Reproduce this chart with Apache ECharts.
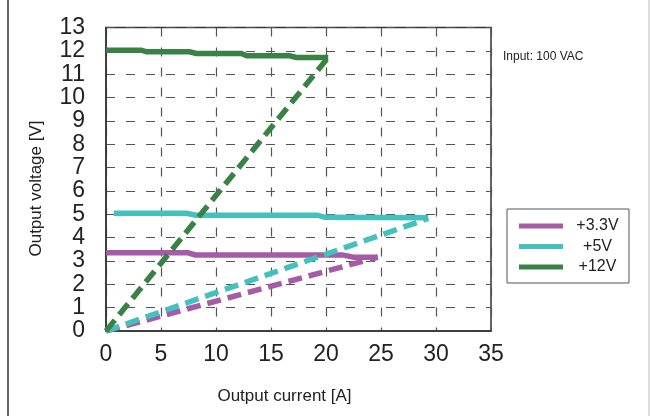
<!DOCTYPE html>
<html>
<head>
<meta charset="utf-8">
<script src="https://cdn.jsdelivr.net/npm/echarts@6/dist/echarts.min.js"></script>
<style>
  html, body { margin: 0; padding: 0; background: #fff; }
  #chart { width: 650px; height: 416px; }
</style>
</head>
<body>
<div id="chart"></div>
<script>
// ---- data ----
const seriesNames = ['+3.3V', '+5V', '+12V'];
const xTicks = [0, 5, 10, 15, 20, 25, 30, 35];
const yTicks = [0, 1, 2, 3, 4, 5, 6, 7, 8, 9, 10, 11, 12, 13];

// solid load-regulation curves (current A, voltage V)
const v33Current = [0, 7.45, 8.1, 21.5, 22.5, 24.7];
const v33Voltage = [3.35, 3.35, 3.26, 3.26, 3.16, 3.16];
const v5Current  = [0.7, 7.3, 8.2, 19.2, 19.9, 29.3];
const v5Voltage  = [5.04, 5.04, 4.96, 4.96, 4.87, 4.85];
const v12Current = [0, 3.2, 3.7, 7.6, 8.2, 12.3, 12.8, 16.7, 17.3, 20.2];
const v12Voltage = [12.03, 12.03, 11.96, 11.96, 11.89, 11.89, 11.79, 11.79, 11.72, 11.72];

// dashed over-current fold-back lines
const v33FoldCurrent = [0, 24.7];
const v33FoldVoltage = [0, 3.16];
const v5FoldCurrent  = [0, 29.3];
const v5FoldVoltage  = [0, 4.82];
const v12FoldCurrent = [0, 20.2];
const v12FoldVoltage = [0, 11.72];

const inputNote = 'Input: 100 VAC';
const xTitle = 'Output current [A]';
const yTitle = 'Output voltage [V]';

// ---- styling ----
const colors = ['#a55ba5', '#44c1bd', '#3a8145'];
const FONT = 'Liberation Sans, Arial, sans-serif';

function zip(xs, ys) { return xs.map((x, i) => [x, ys[i]]); }

function solid(name, xs, ys, color) {
  return {
    name: name, type: 'line', data: zip(xs, ys),
    showSymbol: false, symbol: 'none', animation: false,
    itemStyle: { color: color },
    lineStyle: { color: color, width: 5.5, cap: 'butt', join: 'miter' },
    z: 3
  };
}
function dashed(name, xs, ys, color) {
  return {
    name: name + ' fold', type: 'line', data: zip(xs, ys),
    showSymbol: false, symbol: 'none', animation: false,
    itemStyle: { color: color },
    lineStyle: { color: color, width: 5.5, type: [14, 7], cap: 'butt' },
    z: 4
  };
}

const chart = echarts.init(document.getElementById('chart'), null, { renderer: 'canvas' });

const option = {
  backgroundColor: '#ffffff',
  animation: false,
  textStyle: { fontFamily: FONT },
  grid: {
    left: 106, right: 159, top: 27.5, bottom: 85,
    show: true, borderColor: '#333', borderWidth: 1.5, backgroundColor: 'transparent'
  },
  xAxis: {
    type: 'value', min: xTicks[0], max: xTicks[xTicks.length - 1], interval: 5,
    axisLine: { show: true, lineStyle: { color: '#333', width: 1.5 } },
    axisTick: { show: false },
    axisLabel: { color: '#222', fontSize: 23, fontFamily: FONT, margin: 12 },
    splitLine: { show: true, lineStyle: { color: '#555', width: 1.2, type: [9, 11] } }
  },
  yAxis: {
    type: 'value', min: yTicks[0], max: yTicks[yTicks.length - 1], interval: 1,
    axisLine: { show: true, lineStyle: { color: '#333', width: 1.5 } },
    axisTick: { show: false },
    axisLabel: { color: '#222', fontSize: 23, fontFamily: FONT, margin: 21 },
    splitLine: { show: true, lineStyle: { color: '#555', width: 1.2, type: [9, 11] } }
  },
  legend: {
    data: seriesNames,
    orient: 'vertical',
    left: 507, top: 209,
    padding: [9, 2, 8, 12],
    itemWidth: 44, itemHeight: 5, itemGap: 4.5,
    icon: 'rect',
    borderColor: '#555', borderWidth: 1,
    selectedMode: false,
    formatter: function (n) { return '{a|' + n + '}'; },
    textStyle: {
      color: '#222', fontFamily: FONT, fontSize: 16,
      rich: { a: { width: 59, align: 'center', fontSize: 16, lineHeight: 18, fontFamily: FONT, color: '#222' } }
    }
  },
  graphic: [
    { type: 'line', shape: { x1: 8, y1: 0, x2: 8, y2: 416 }, style: { stroke: '#333', lineWidth: 1.5 } },
    { type: 'line', shape: { x1: 649, y1: 0, x2: 649, y2: 416 }, style: { stroke: '#bbb', lineWidth: 1 } },
    { type: 'text', left: 503, top: 51, style: { text: inputNote, font: '12px ' + FONT, fill: '#222' } },
    { type: 'text', x: 284.5, y: 396.5, style: { text: xTitle, font: '17px ' + FONT, fill: '#222', textAlign: 'center', textVerticalAlign: 'middle' } },
    { type: 'text', x: 36.5, y: 188.5, rotation: Math.PI / 2, style: { text: yTitle, font: '17px ' + FONT, fill: '#222', textAlign: 'center', textVerticalAlign: 'middle' } }
  ],
  series: [
    solid(seriesNames[0], v33Current, v33Voltage, colors[0]),
    solid(seriesNames[1], v5Current, v5Voltage, colors[1]),
    solid(seriesNames[2], v12Current, v12Voltage, colors[2]),
    dashed(seriesNames[0], v33FoldCurrent, v33FoldVoltage, colors[0]),
    dashed(seriesNames[1], v5FoldCurrent, v5FoldVoltage, colors[1]),
    dashed(seriesNames[2], v12FoldCurrent, v12FoldVoltage, colors[2])
  ]
};
chart.setOption(option);
</script>
</body>
</html>
